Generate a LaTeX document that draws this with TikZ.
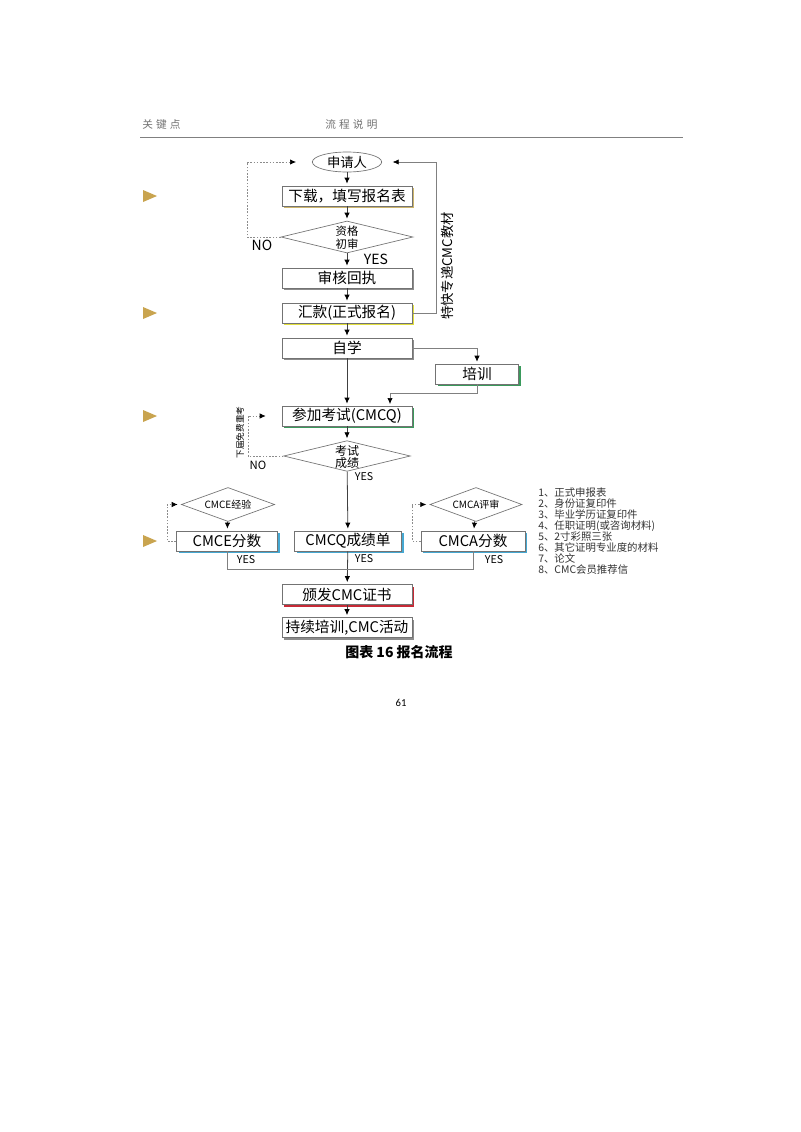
\documentclass[tikz,border=0pt]{standalone}
\usepackage{fontspec}
\setmainfont{Noto Sans CJK SC}
\newfontfamily\numfont{Carlito}
\newfontfamily\headfont[LetterSpace=30]{Noto Sans CJK SC}
\usepackage{tikz}
\usetikzlibrary{shapes.geometric,shadows,arrows.meta}

\definecolor{markgold}{HTML}{C9A44F}
\definecolor{formgold}{HTML}{CDB56A}
\definecolor{payyellow}{HTML}{E2DF3C}
\definecolor{examgreen}{HTML}{3A9A5C}
\definecolor{scoreblue}{HTML}{45A8D2}
\definecolor{certred}{HTML}{C62A36}

\begin{document}
\begin{tikzpicture}[x=0.75pt,y=-0.75pt,
  box/.style={rectangle,draw=black!55,fill=white,line width=0.5pt,minimum width=97.5pt,minimum height=15pt,inner sep=0pt,font=\fontsize{11}{12}\selectfont},
  lift/.style={drop shadow={shadow xshift=1.8pt,shadow yshift=-1.8pt,fill=#1,opacity=1}},
  gate/.style={diamond,draw=black!55,fill=white,line width=0.5pt,inner sep=0pt},
  link/.style={draw=black!75,line width=0.6pt,shorten >=1.5pt,-{Latex[length=4.5pt,width=4pt,black]}},
  back/.style={draw=black!45,line width=0.5pt,dash pattern=on 1.2pt off 1.2pt,-{Latex[length=4.5pt,width=4pt,black]}},
  wire/.style={draw=black!50,line width=0.5pt},
  tag/.style={font=\fontsize{8}{9}\selectfont}]
\fill[white] (0,0) rectangle (800,1132);
\useasboundingbox (0,0) rectangle (800,1132);

% header
\node[font=\headfont\fontsize{8}{10}\selectfont,text=black!55,anchor=west,inner sep=0pt] (keyhead) at (142,124) {关键点};
\node[font=\headfont\fontsize{8}{10}\selectfont,text=black!55,anchor=west,inner sep=0pt] (flowhead) at (325,124) {流程说明};
\draw[black!50,line width=0.6pt] (140,137)--(683,137);

% key points
\fill[markgold] (143,190)--(157,196)--(143,202)--cycle;
\fill[markgold] (143,307)--(157,313)--(143,319)--cycle;
\fill[markgold] (143,410)--(157,416)--(143,422)--cycle;
\fill[markgold] (143,535)--(157,541)--(143,547)--cycle;

% flow
\node[ellipse,draw=black!55,line width=0.5pt,minimum width=52pt,minimum height=15pt,inner sep=0pt,font=\fontsize{10}{12}\selectfont] (apply) at (347,162) {申请人};
\node[box,lift=formgold] (form) at (347,196) {下载，填写报名表};
\node[gate,minimum width=99pt,minimum height=24pt] (check) at (347,237) {};
\node[font=\fontsize{8.5}{9.5}\selectfont,align=center] (checktxt) at (347,237.5) {资格\\初审};
\node[box,lift=black!45] (receipt) at (347,278) {审核回执};
\node[box,lift=payyellow] (pay) at (347,313) {汇款(正式报名)};
\node[box,lift=black!45] (study) at (347,348) {自学};
\node[box,lift=examgreen,minimum width=62pt] (train) at (477,374) {培训};
\node[box,lift=examgreen] (exam) at (347,416) {参加考试(CMCQ)};
\node[gate,minimum width=95pt,minimum height=23pt] (result) at (347,456) {};
\node[font=\fontsize{9}{9}\selectfont,align=center] (resulttxt) at (347,457) {考试\\成绩};

\node[gate,minimum width=70pt,minimum height=25.5pt] (cecheck) at (228,504.5) {};
\node[font=\fontsize{7.5}{9}\selectfont] (cechecktxt) at (228,504.5) {CMCE经验};
\node[gate,minimum width=69pt,minimum height=25.5pt] (cacheck) at (476,504.5) {};
\node[font=\fontsize{7.5}{9}\selectfont] (cachecktxt) at (476,504.5) {CMCA评审};
\node[box,lift=scoreblue,minimum width=76pt] (cescore) at (227,541) {CMCE分数};
\node[box,lift=scoreblue,minimum width=80pt] (cqscore) at (348,541) {CMCQ成绩单};
\node[box,lift=scoreblue,minimum width=78pt] (cascore) at (473,541) {CMCA分数};
\node[box,lift=certred] (cert) at (347,594.5) {颁发CMC证书};
\node[box,lift=black!45] (cpd) at (347,627.5) {持续培训,CMC活动};

% labels
\node[font=\fontsize{10.5}{12}\selectfont] (no1) at (262,245) {NO};
\node[font=\fontsize{10.5}{12}\selectfont] (yes1) at (376,259) {YES};
\node[font=\fontsize{8.5}{10}\selectfont] (no2) at (258,465) {NO};
\node[tag] (yes2) at (364,477) {YES};
\node[tag] (yes3) at (246,560) {YES};
\node[tag] (yes4) at (364,559) {YES};
\node[tag] (yes5) at (494,560) {YES};
\node[rotate=90,font=\fontsize{10}{12}\selectfont] (express) at (447,266) {特快专递CMC教材};
\node[rotate=90,font=\fontsize{6.5}{8}\selectfont] (retake) at (240,432.5) {下届免费重考};
\node[anchor=north west,align=left,inner sep=0pt,text=black!80,font=\fontsize{7.8}{8.3}\selectfont] (docs) at (538,487) {1、正式申报表\\2、身份证复印件\\3、毕业学历证复印件\\4、任职证明(或咨询材料)\\5、2寸彩照三张\\6、其它证明专业度的材料\\7、论文\\8、CMC会员推荐信};
\node[font=\fontsize{10.5}{12}\selectfont\bfseries] (caption) at (399,652) {图表 16 报名流程};
\node[font=\numfont\fontsize{8}{10}\selectfont] (page) at (401,703) {61};

% connectors
\coordinate (recheck) at (247,162);
\coordinate (mailtop) at (436,162);
\coordinate (examin) at (390,406);
\coordinate (retry) at (248,416);
\coordinate (ceback) at (167,504.5);
\coordinate (caback) at (412,504.5);
\coordinate (join) at (347,569.3);

\draw[link] (apply)--(form);
\draw[link] (form)--(check);
\draw[link] (check)--(receipt);
\draw[link] (receipt)--(pay);
\draw[link] (pay)--(study);
\draw[link] (study)--(exam);
\draw[link] (exam)--(result);
\draw[link] (result)--(cqscore);
\draw[link] (cecheck)--(cescore);
\draw[link] (cacheck)--(cascore);
\draw[link] (cqscore)--(cert);
\draw[link] (cert)--(cpd);
\draw[back,shorten >=12pt] (check.west)-|(recheck)--(apply.west);
\draw[back,shorten >=12pt] (result.west)-|(retry)--(exam.west);
\draw[back,shorten >=2.5pt] (cescore.west)-|(ceback)--(cecheck.west);
\draw[back,shorten >=2.5pt] (cascore.west)-|(caback)--(cacheck.west);
\draw[wire,shorten >=8pt,-{Latex[length=4.5pt,width=4pt,black]}] (pay.east)-|(mailtop)--(apply.east);
\draw[wire,shorten >=1.5pt,-{Latex[length=4.5pt,width=4pt,black]}] (study.east)-|(train.north);
\draw[wire,shorten >=1.5pt,-{Latex[length=4.5pt,width=4pt,black]}] (train.south)--++(0,9)-|(examin);
\draw[wire] (cescore.south)|-(join)-|(cascore.south);
\end{tikzpicture}
\end{document}
